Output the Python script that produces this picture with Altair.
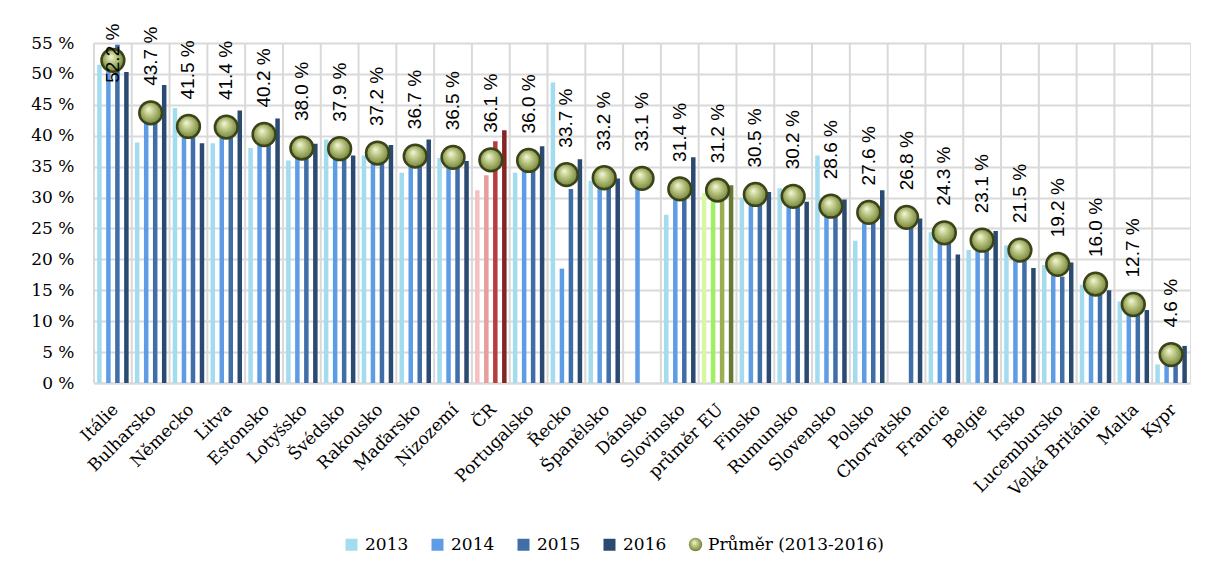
import altair as alt
import pandas as pd

countries = ["Itálie", "Bulharsko", "Německo", "Litva", "Estonsko", "Lotyšsko", "Švédsko",
             "Rakousko", "Maďarsko", "Nizozemí", "ČR", "Portugalsko", "Řecko", "Španělsko",
             "Dánsko", "Slovinsko", "průměr EU", "Finsko", "Rumunsko", "Slovensko", "Polsko",
             "Chorvatsko", "Francie", "Belgie", "Irsko", "Lucembursko", "Velká Británie",
             "Malta", "Kypr"]

years = ["2013", "2014", "2015", "2016"]
v2013 = [51.5, 38.9, 44.5, 38.8, 38.0, 36.0, 39.4, 36.8, 34.0, 36.4, 31.2, 34.0, 48.6, 32.7,
         None, 27.2, 30.7, 29.9, 31.5, 36.8, 23.0, None, 24.4, 21.5, 22.3, 19.1, 15.9, 13.2, 3.0]
v2014 = [52.0, 43.0, 41.5, 41.2, 40.0, 38.0, 37.7, 36.8, 36.5, 37.0, 33.6, 36.0, 18.5, 33.5,
         33.0, 30.5, 30.5, 30.5, 30.3, 27.5, 28.0, None, 25.8, 23.0, 22.5, 21.0, 16.5, 12.8, 4.5]
v2015 = [54.7, 44.5, 41.7, 41.5, 40.3, 38.2, 37.6, 37.0, 36.9, 36.8, 39.1, 36.2, 31.4, 33.5,
         None, 31.2, 31.6, 30.8, 30.0, 27.5, 28.2, 27.0, 26.0, 23.3, 22.6, 17.2, 16.6, 13.0, 4.9]
v2016 = [50.3, 48.2, 38.8, 44.1, 42.8, 38.7, 36.8, 38.5, 39.4, 35.9, 40.9, 38.3, 36.2, 33.1,
         None, 36.5, 32.0, 30.9, 29.3, 29.7, 31.2, 26.6, 20.8, 24.6, 18.6, 19.5, 15.0, 11.8, 6.0]
average = [52.2, 43.7, 41.5, 41.4, 40.2, 38.0, 37.9, 37.2, 36.7, 36.5, 36.1, 36.0, 33.7, 33.2,
           33.1, 31.4, 31.2, 30.5, 30.2, 28.6, 27.6, 26.8, 24.3, 23.1, 21.5, 19.2, 16.0, 12.7, 4.6]

avg_name = "Průměr (2013-2016)"
y_ticks = [0, 5, 10, 15, 20, 25, 30, 35, 40, 45, 50, 55]

rows = []
for i, c in enumerate(countries):
    for yr, arr in zip(years, [v2013, v2014, v2015, v2016]):
        v = arr[i]
        if v is None:
            continue
        if c == "ČR":
            key = "ČR " + yr
        elif c == "průměr EU":
            key = "EU " + yr
        else:
            key = yr
        rows.append({"country": c, "year": yr, "value": v, "key": key})
bars_df = pd.DataFrame(rows)
avg_df = pd.DataFrame({"country": countries, "avg": average, "series": [avg_name] * len(countries)})

color_domain = years + ["ČR " + y for y in years] + ["EU " + y for y in years]
color_range = ["#a2dcee", "#5e9de6", "#3f6ea8", "#2b4a72",
               "#f4c0c0", "#e89c9c", "#b53f3f", "#842424",
               "#d8f7a3", "#9ef060", "#9aae52", "#677a33"]

x_scale = alt.Scale(paddingInner=0, paddingOuter=0)
y_scale = alt.Scale(domain=[0, 55], nice=False)

x_axis = alt.Axis(title=None, labelAngle=-45, labelAlign="right", labelBaseline="top",
                  labelFont="DejaVu Serif", labelFontSize=17, labelColor="#000000",
                  labelPadding=18, labelOffset=-3, ticks=False, domain=True,
                  domainColor="#d9d9d9", domainWidth=2, grid=False, labelOverlap=False)
y_axis = alt.Axis(title=None, values=y_ticks, labelExpr="datum.value + ' %'",
                  labelFont="DejaVu Serif", labelFontSize=17, labelColor="#000000",
                  labelPadding=20, ticks=False, domain=False, grid=True,
                  gridColor="#d9d9d9", gridWidth=2, labelOverlap=False, labelFlush=False)

grid_rules = alt.Chart(avg_df).mark_rule(color="#d9d9d9", strokeWidth=2).encode(
    x=alt.X("country:N", sort=countries, bandPosition=0, scale=x_scale, axis=x_axis)
)

bars = alt.Chart(bars_df).mark_bar().encode(
    x=alt.X("country:N", sort=countries, scale=x_scale, axis=x_axis),
    xOffset=alt.XOffset("year:N", sort=years,
                        scale=alt.Scale(paddingInner=0.5, paddingOuter=0.35)),
    y=alt.Y("value:Q", scale=y_scale, axis=y_axis),
    color=alt.Color("key:N", scale=alt.Scale(domain=color_domain, range=color_range),
                    legend=alt.Legend(title=None, orient="none", legendX=249, legendY=493,
                                      direction="horizontal", values=years,
                                      symbolType="square", symbolSize=144,
                                      labelFont="DejaVu Serif", labelFontSize=17,
                                      labelColor="#000000", columnPadding=20, labelOffset=5)),
)

ball_fill = alt.RadialGradient(
    gradient="radial",
    stops=[alt.GradientStop(offset=0, color="#f4f7e0"),
           alt.GradientStop(offset=0.3, color="#c8d294"),
           alt.GradientStop(offset=0.75, color="#86944b"),
           alt.GradientStop(offset=1, color="#4f5d25")],
    x1=0.4, y1=0.33, r1=0, x2=0.5, y2=0.5, r2=0.6,
)

points = alt.Chart(avg_df).mark_point(
    filled=True, size=520, fill=ball_fill, stroke="#3a4418",
    strokeWidth=2.5, opacity=1, fillOpacity=1
).encode(
    x=alt.X("country:N", sort=countries, scale=x_scale, axis=x_axis),
    y=alt.Y("avg:Q", scale=y_scale, axis=y_axis),
    shape=alt.Shape("series:N", scale=alt.Scale(domain=[avg_name], range=["circle"]),
                    legend=alt.Legend(title=None, orient="none", legendX=593, legendY=493,
                                      symbolSize=180, symbolFillColor="#8c9a55",
                                      symbolStrokeColor="#3a4418", symbolStrokeWidth=1.5,
                                      labelFont="DejaVu Serif", labelFontSize=17,
                                      labelColor="#000000", labelOffset=4, labelLimit=400)),
)

labels = alt.Chart(avg_df).transform_calculate(
    label="format(datum.avg, '.1f') + ' %'",
    ypos="min(datum.avg, 44.2)",
).mark_text(
    angle=270, align="left", baseline="middle", dx=27,
    font="Liberation Sans", fontSize=19, color="#000000"
).encode(
    x=alt.X("country:N", sort=countries, scale=x_scale, axis=x_axis),
    y=alt.Y("ypos:Q", scale=y_scale, axis=y_axis),
    text="label:N",
)

chart = alt.layer(grid_rules, bars, points, labels).properties(
    width=1096, height=340,
    autosize=alt.AutoSizeParams(type="none"),
    padding={"left": 86, "top": 35, "right": 8, "bottom": 180},
).configure_view(
    fill="#efefef", stroke="#d9d9d9", strokeWidth=2
).configure_axisY(
    labelOverlap=False
).configure(background="#ffffff")

chart.save("out.html", embed_options={"renderer": "svg", "actions": False})
